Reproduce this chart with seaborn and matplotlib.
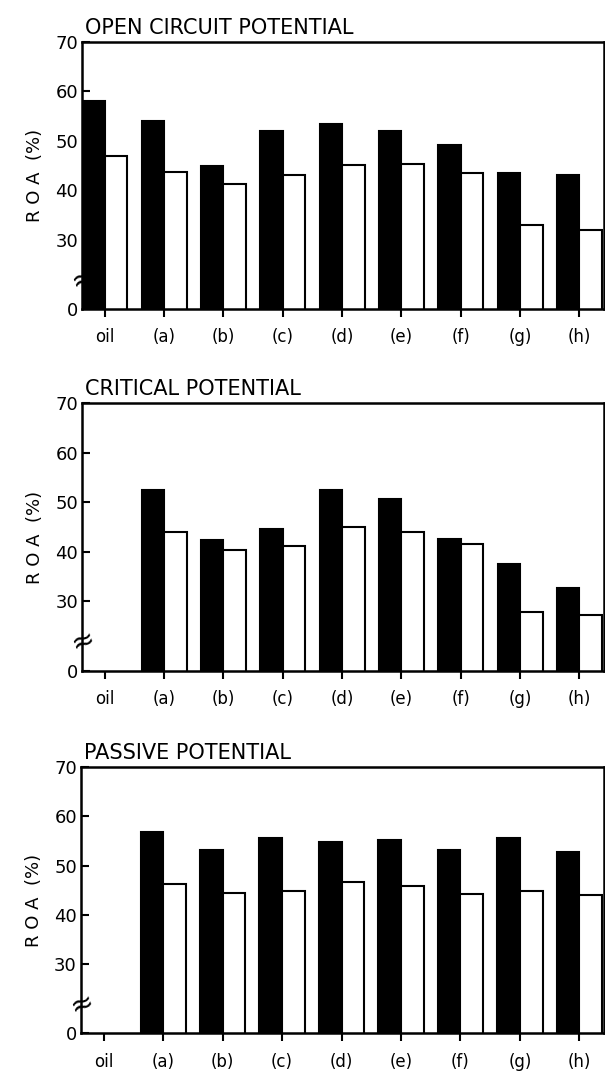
import numpy as np
import pandas as pd
import matplotlib
matplotlib.use("Agg")
import matplotlib.pyplot as plt
import seaborn as sns

# -----------------------------
# Data (ROA %)
# -----------------------------
samples = ["oil", "(a)", "(b)", "(c)", "(d)", "(e)", "(f)", "(g)", "(h)"]
series = ["solid", "open"]

open_circuit_solid = [58.1, 54.0, 44.9, 51.9, 53.4, 52.0, 49.1, 43.5, 43.1]
open_circuit_open = [46.9, 43.7, 41.2, 43.1, 45.1, 45.3, 43.5, 32.9, 31.9]

critical_solid = [np.nan, 52.5, 42.4, 44.7, 52.5, 50.7, 42.6, 37.6, 32.8]
critical_open = [np.nan, 44.1, 40.4, 41.2, 45.1, 44.1, 41.6, 27.8, 27.3]

passive_solid = [np.nan, 56.9, 53.2, 55.6, 54.9, 55.2, 53.2, 55.6, 52.8]
passive_open = [np.nan, 46.3, 44.5, 44.8, 46.8, 45.9, 44.3, 44.9, 44.0]

panel_titles = ["OPEN CIRCUIT POTENTIAL", "CRITICAL POTENTIAL", "PASSIVE POTENTIAL"]

# broken axis: the "0" sits where 16 would be on the 30-70 scale
axis_floor = 16
ytick_vals = [axis_floor, 30, 40, 50, 60, 70]
ytick_labels = ["0", "30", "40", "50", "60", "70"]


def make_frame(solid, hollow):
    rows = []
    for s, a, b in zip(samples, solid, hollow):
        rows.append({"sample": s, "series": "solid", "roa": a})
        rows.append({"sample": s, "series": "open", "roa": b})
    return pd.DataFrame(rows).dropna()


frames = [
    make_frame(open_circuit_solid, open_circuit_open),
    make_frame(critical_solid, critical_open),
    make_frame(passive_solid, passive_open),
]

# -----------------------------
# Plot
# -----------------------------
sns.set_style("ticks")
plt.rcParams["font.family"] = ["DejaVu Sans"]
for key in ["text.color", "axes.labelcolor", "xtick.color", "ytick.color"]:
    plt.rcParams[key] = "black"

fig = plt.figure(figsize=(6.05, 10.73), dpi=100)

# axes boxes in figure fractions (left, bottom, width, height)
boxes = [
    [0.136, 0.712, 0.862, 0.249],
    [0.136, 0.375, 0.862, 0.249],
    [0.134, 0.037, 0.864, 0.248],
]

for box, df, title in zip(boxes, frames, panel_titles):
    ax = fig.add_axes(box)
    sns.barplot(data=df, x="sample", y="roa", hue="series",
                order=samples, hue_order=series,
                palette=["black", "white"], edgecolor="black", linewidth=1.5,
                width=0.76, errorbar=None, legend=False, ax=ax)

    ax.set_ylim(axis_floor, 70)
    ax.set_xlim(-0.38, 8.41)
    ax.set_yticks(ytick_vals)
    ax.set_yticklabels(ytick_labels, fontsize=13)
    ax.set_xticks(range(len(samples)))
    ax.set_xticklabels(samples, fontsize=12)
    ax.tick_params(axis="y", direction="in", length=6, width=1.5, pad=3)
    ax.tick_params(axis="x", direction="out", length=6, width=1.5, pad=8)
    ax.set_xlabel("")
    ax.set_ylabel("R O A  (%)", fontsize=13, labelpad=8)

    for side in ["left", "right", "top", "bottom"]:
        ax.spines[side].set_visible(True)
        ax.spines[side].set_linewidth(1.8)
        ax.spines[side].set_color("black")

    # axis break mark
    ax.text(0, 22, "≈", transform=ax.get_yaxis_transform(), ha="center",
            va="center", fontsize=20, rotation=20, zorder=0,
            bbox=dict(facecolor="white", edgecolor="none", pad=0.2))

    ax.set_title(title, loc="left", fontsize=15, pad=6, x=0.005)

fig.savefig("out.png", dpi=100)
